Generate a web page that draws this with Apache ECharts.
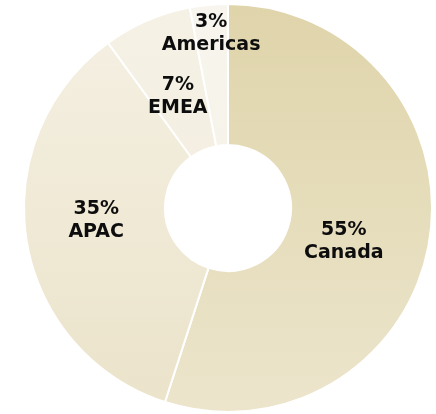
<!DOCTYPE html>
<html>
<head>
<meta charset="utf-8">
<style>
  html, body { margin: 0; padding: 0; background: #ffffff; }
  #chart { width: 436px; height: 414px; }
</style>
<script src="https://cdn.jsdelivr.net/npm/echarts@6/dist/echarts.min.js"></script>
</head>
<body>
<div id="chart"></div>
<script>
// Revenue share by region
const regions = ['Canada', 'APAC', 'EMEA', 'Americas'];
const shares = [55, 35, 7, 3];

// Per-slice fill: vertical gradient (top colour, bottom colour)
const sliceTop = ['#dfd4aa', '#f4efe1', '#f5f1e5', '#f8f5ee'];
const sliceBottom = ['#ece5cc', '#ebe3ca', '#f4efe2', '#f6f3ea'];
// Label nudges relative to the slice's mid-ring anchor
const labelShift = [[-19, 12], [3, -9], [4, 14], [-4, -39]];

const chart = echarts.init(document.getElementById('chart'), null, { renderer: 'canvas' });

const data = regions.map((name, i) => ({
  name: name,
  value: shares[i],
  itemStyle: {
    color: new echarts.graphic.LinearGradient(0, 0, 0, 1, [
      { offset: 0, color: sliceTop[i] },
      { offset: 1, color: sliceBottom[i] }
    ])
  },
  label: { offset: labelShift[i] }
}));

chart.setOption({
  animation: false,
  backgroundColor: '#ffffff',
  series: [{
    type: 'pie',
    center: [228, 208],
    radius: [63, 204],
    startAngle: 90,
    clockwise: true,
    avoidLabelOverlap: false,
    itemStyle: { borderColor: '#ffffff', borderWidth: 2 },
    label: {
      show: true,
      position: 'inside',
      formatter: p => p.value + '%\n' + p.name,
      color: '#0d0d0d',
      fontFamily: 'DejaVu Sans',
      fontWeight: 'bold',
      fontSize: 19,
      lineHeight: 23,
      align: 'center'
    },
    labelLine: { show: false },
    emphasis: { disabled: true },
    data: data
  }]
});
</script>
</body>
</html>
